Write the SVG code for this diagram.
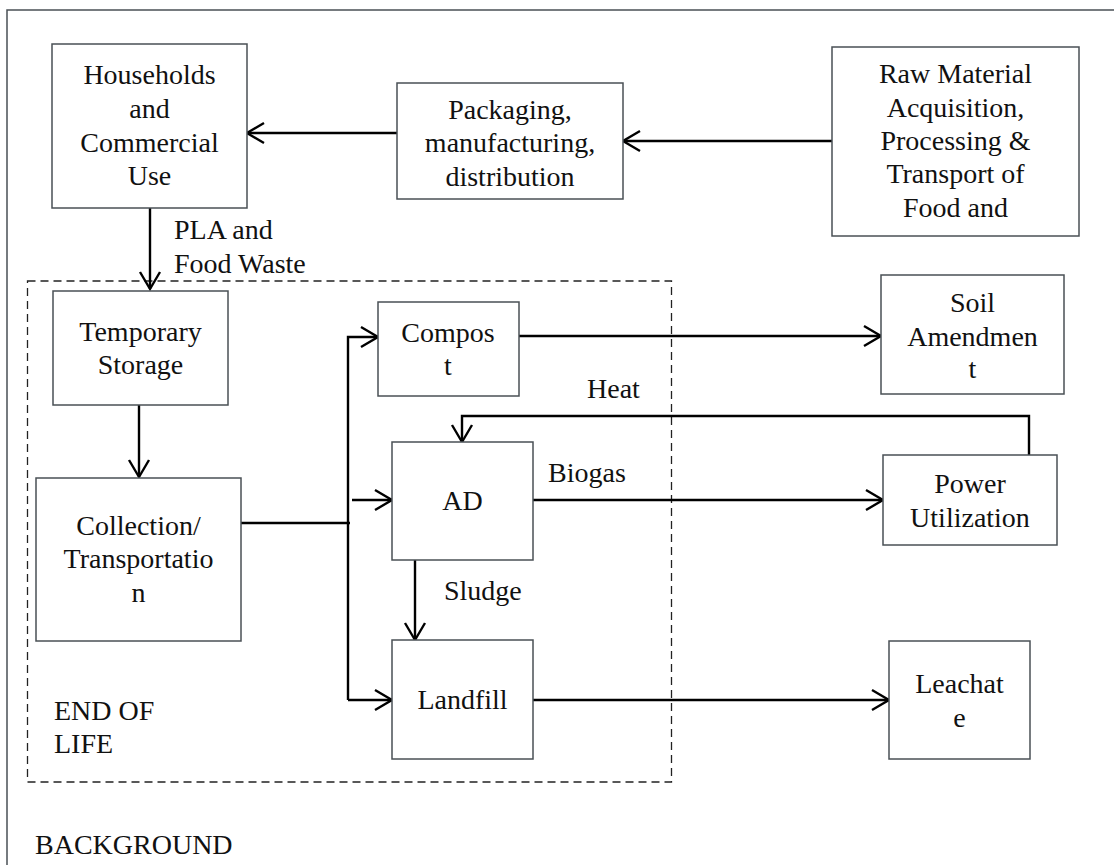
<svg xmlns="http://www.w3.org/2000/svg" width="1114" height="865" viewBox="0 0 1114 865">
  <style>
    text { font-family: "Liberation Serif", "Noto Serif", "Nimbus Roman", "FreeSerif", "Tinos", Times, serif; font-size: 28px; fill: #111; }
    .c { text-anchor: middle; }
    .box { fill: #fff; stroke: #4a5055; stroke-width: 1.5; }
    .link { fill: none; stroke: #000; stroke-width: 2.4; }
    .frame { fill: none; stroke: #4a5055; stroke-width: 1.5; }
    .group { fill: none; stroke: #222; stroke-width: 1.3; stroke-dasharray: 8 5; }
  </style>
  <defs>
    <marker id="arrow" markerUnits="userSpaceOnUse" markerWidth="22" markerHeight="26" refX="19" refY="13" orient="auto">
      <path d="M2,3 L19,13 L2,23" fill="none" stroke="#000" stroke-width="2.4"/>
    </marker>
  </defs>

  <rect width="1114" height="865" fill="#fff"/>

  <!-- outer background frame -->
  <path class="frame" d="M7,865 V10 H1114"/>
  <text x="35" y="854">BACKGROUND</text>

  <!-- end-of-life boundary -->
  <g id="end-of-life">
    <rect class="group" x="27.5" y="281" width="644" height="501"/>
    <text x="54" y="720">END OF</text>
    <text x="54" y="753">LIFE</text>
  </g>

  <!-- connectors -->
  <g id="connectors">
    <path class="link" d="M832,141 H623" marker-end="url(#arrow)"/>
    <path class="link" d="M397,133 H247" marker-end="url(#arrow)"/>
    <path class="link" d="M150,208 V289" marker-end="url(#arrow)"/>
    <path class="link" d="M139,405 V477" marker-end="url(#arrow)"/>
    <path class="link" d="M241,523 H350"/>
    <path class="link" d="M348,700 V337 H378" marker-end="url(#arrow)"/>
    <path class="link" d="M352,500 H392" marker-end="url(#arrow)"/>
    <path class="link" d="M348,700 H392" marker-end="url(#arrow)"/>
    <path class="link" d="M415,560 V640" marker-end="url(#arrow)"/>
    <path class="link" d="M519,336 H881" marker-end="url(#arrow)"/>
    <path class="link" d="M533,500 H883" marker-end="url(#arrow)"/>
    <path class="link" d="M1029,455 V416 H462 V442" marker-end="url(#arrow)"/>
    <path class="link" d="M533,700 H889" marker-end="url(#arrow)"/>
    <text x="174" y="239">PLA and</text>
    <text x="174" y="273">Food Waste</text>
    <text x="587" y="398">Heat</text>
    <text x="548" y="482">Biogas</text>
    <text x="444" y="600">Sludge</text>
  </g>

  <g id="households">
    <rect class="box" x="52" y="44" width="195" height="164"/>
    <text class="c" x="149.5" y="84">Households</text>
    <text class="c" x="149.5" y="118">and</text>
    <text class="c" x="149.5" y="152">Commercial</text>
    <text class="c" x="149.5" y="185">Use</text>
  </g>

  <g id="packaging">
    <rect class="box" x="397" y="83" width="226" height="116"/>
    <text class="c" x="510" y="119">Packaging,</text>
    <text class="c" x="510" y="152">manufacturing,</text>
    <text class="c" x="510" y="186">distribution</text>
  </g>

  <g id="raw-material">
    <rect class="box" x="832" y="47" width="247" height="189"/>
    <text class="c" x="955.5" y="83">Raw Material</text>
    <text class="c" x="955.5" y="117">Acquisition,</text>
    <text class="c" x="955.5" y="150">Processing &amp;</text>
    <text class="c" x="955.5" y="183">Transport of</text>
    <text class="c" x="955.5" y="217">Food and</text>
  </g>

  <g id="temporary-storage">
    <rect class="box" x="53" y="291" width="175" height="114"/>
    <text class="c" x="140.5" y="341">Temporary</text>
    <text class="c" x="140.5" y="374">Storage</text>
  </g>

  <g id="collection">
    <rect class="box" x="36" y="478" width="205" height="163"/>
    <text class="c" x="138.5" y="535">Collection/</text>
    <text class="c" x="138.5" y="568">Transportatio</text>
    <text class="c" x="138.5" y="602">n</text>
  </g>

  <g id="compost">
    <rect class="box" x="378" y="302" width="141" height="94"/>
    <text class="c" x="448" y="342">Compos</text>
    <text class="c" x="448" y="375">t</text>
  </g>

  <g id="ad">
    <rect class="box" x="392" y="442" width="141" height="118"/>
    <text class="c" x="462.5" y="510">AD</text>
  </g>

  <g id="landfill">
    <rect class="box" x="392" y="640" width="141" height="119"/>
    <text class="c" x="462.5" y="709">Landfill</text>
  </g>

  <g id="soil-amendment">
    <rect class="box" x="881" y="275" width="183" height="119"/>
    <text class="c" x="972.5" y="312">Soil</text>
    <text class="c" x="972.5" y="346">Amendmen</text>
    <text class="c" x="972.5" y="378">t</text>
  </g>

  <g id="power-utilization">
    <rect class="box" x="883" y="455" width="174" height="90"/>
    <text class="c" x="970" y="493">Power</text>
    <text class="c" x="970" y="527">Utilization</text>
  </g>

  <g id="leachate">
    <rect class="box" x="889" y="641" width="141" height="118"/>
    <text class="c" x="959.5" y="693">Leachat</text>
    <text class="c" x="959.5" y="727">e</text>
  </g>
</svg>
